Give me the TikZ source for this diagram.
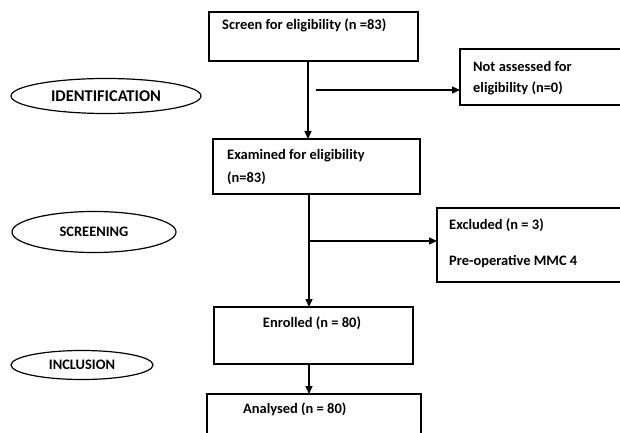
\documentclass[tikz,border=0pt]{standalone}
\usepackage{fontspec}
\setmainfont{Carlito}
\usetikzlibrary{arrows.meta,shapes.geometric}
\begin{document}
\begin{tikzpicture}[x=1bp,y=-1bp,
  box/.style={draw, line width=1.3bp, inner sep=0, outer sep=0, anchor=north west},
  lbl/.style={font=\bfseries\fontsize{14.5}{17}\selectfont, anchor=west, inner sep=0},
  oval/.style={draw, ellipse, line width=1.2bp, inner sep=0, font=\bfseries\fontsize{14.5}{17}\selectfont},
  conn/.style={line width=1.5bp},
  arr/.style={conn, -{Triangle[length=8bp,width=7bp]}}]
\useasboundingbox (0,0) rectangle (620,433);
% boxes
\node[box, minimum width=209bp, minimum height=49bp] (screen) at (209,12) {};
\node[box, minimum width=180bp, minimum height=56bp] (na) at (460,49) {};
\node[box, minimum width=207bp, minimum height=55bp] (exam) at (213,139) {};
\node[box, minimum width=200bp, minimum height=74bp] (exc) at (437,208) {};
\node[box, minimum width=199bp, minimum height=57bp] (enr) at (214,307) {};
\node[box, minimum width=214bp, minimum height=60bp] (ana) at (207,394) {};
% texts
\node[lbl] (tscreen) at (222,25) {Screen for eligibility (n =83)};
\node[lbl] (tna1) at (473,66) {Not assessed for};
\node[lbl] (tna2) at (473,88) {eligibility (n=0)};
\node[lbl] (texam1) at (227,156) {Examined for eligibility};
\node[lbl] (texam2) at (227,178) {(n=83)};
\node[lbl] (texc1) at (449,225) {Excluded (n = 3)};
\node[lbl] (texc2) at (449,262) {Pre-operative MMC 4};
\node[lbl, anchor=center] (tenr) at (312,323) {Enrolled (n = 80)};
\node[lbl] (tana) at (243,409) {Analysed (n = 80)};
% ovals
\node[oval, minimum width=190bp, minimum height=35bp, font=\bfseries\fontsize{16.5}{19}\selectfont] (ident) at (106,96) {IDENTIFICATION};
\node[oval, minimum width=164bp, minimum height=41bp] (scr) at (94,232) {SCREENING};
\node[oval, minimum width=142bp, minimum height=29bp] (incl) at (82,365) {INCLUSION};
% connectors
\coordinate (v1) at (308,0);
\coordinate (v2) at (309,0);
\coordinate (h1) at (316,90);
\coordinate (h2) at (309,241);
\draw[arr] (screen.south -| v1) -- (exam.north -| v1);
\draw[arr] (h1) -- (h1 -| na.west);
\draw[arr] (exam.south -| v2) -- (enr.north -| v2);
\draw[arr] (h2) -- (h2 -| exc.west);
\draw[arr] (enr.south -| v2) -- (ana.north -| v2);
\end{tikzpicture}
\end{document}
